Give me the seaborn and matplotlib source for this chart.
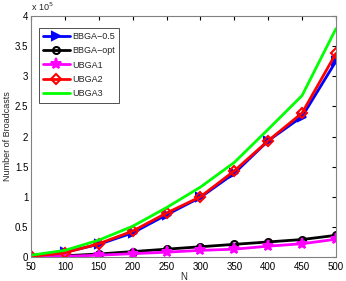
import matplotlib
matplotlib.use("Agg")
import matplotlib.pyplot as plt
import seaborn as sns
import pandas as pd

# ----------------------------------------
# Data (values in units of 1e5)
# ----------------------------------------
n_values = [50, 100, 150, 200, 250, 300, 350, 400, 450, 500]

bbga_05 = [0.01, 0.08, 0.21, 0.40, 0.70, 0.99, 1.39, 1.93, 2.33, 3.25]
bbga_opt = [0.005, 0.02, 0.05, 0.09, 0.13, 0.17, 0.21, 0.25, 0.29, 0.36]
ubga1 = [0.003, 0.01, 0.03, 0.055, 0.08, 0.11, 0.13, 0.18, 0.22, 0.295]
ubga2 = [0.01, 0.07, 0.22, 0.43, 0.73, 1.00, 1.43, 1.93, 2.39, 3.38]
ubga3 = [0.03, 0.11, 0.28, 0.51, 0.82, 1.16, 1.57, 2.12, 2.68, 3.79]

x_ticks = [50, 100, 150, 200, 250, 300, 350, 400, 450, 500]
y_ticks = [0, 0.5, 1, 1.5, 2, 2.5, 3, 3.5, 4]
y_tick_labels = ["0", "0.5", "1", "1.5", "2", "2.5", "3", "3.5", "4"]

df = pd.DataFrame({
    "N": n_values * 5,
    "value": bbga_05 + bbga_opt + ubga1 + ubga2 + ubga3,
    "series": (["BBGA\u22120.5"] * 10 + ["BBGA\u2212opt"] * 10 + ["UBGA1"] * 10
               + ["UBGA2"] * 10 + ["UBGA3"] * 10),
})

sns.set_style("white")
plt.rcParams["font.family"] = ["Liberation Sans", "DejaVu Sans"]

fig = plt.figure(figsize=(3.46, 2.81), dpi=100)
ax = fig.add_axes([0.0896, 0.0854, 0.8814, 0.8576])

styles = {
    "BBGA\u22120.5": dict(color="#0000ff", marker=">", mfc="#0000ff", ms=6),
    "BBGA\u2212opt": dict(color="#000000", marker="o", mfc="none", ms=5),
    "UBGA1": dict(color="#ff00ff", marker="*", mfc="#ff00ff", ms=8),
    "UBGA2": dict(color="#ff0000", marker="D", mfc="none", ms=5),
    "UBGA3": dict(color="#00ff00", marker=None, mfc="none", ms=0),
}

for name, st in styles.items():
    sub = df[df["series"] == name]
    sns.lineplot(
        data=sub, x="N", y="value", ax=ax, color=st["color"],
        marker=st["marker"], markersize=st["ms"], markerfacecolor=st["mfc"],
        markeredgecolor=st["color"], markeredgewidth=1.5, linewidth=2,
        label=name,
    )

ax.set_xlim(50, 500)
ax.set_ylim(0, 4)
ax.set_xticks(x_ticks)
ax.set_yticks(y_ticks)
ax.set_yticklabels(y_tick_labels)
ax.tick_params(direction="in", length=3, labelsize=7, colors="#000000",
               top=True, right=True, pad=2)
ax.tick_params(axis="x", pad=3.5)
for s in ax.spines.values():
    s.set_color("#808080")
    s.set_linewidth(0.8)

ax.set_xlabel("N", fontsize=7, labelpad=0)
ax.set_ylabel("Number of Broadcasts", fontsize=6.5, labelpad=2)

ax.text(0.0, 1.012, "x 10$^5$", transform=ax.transAxes, fontsize=6.5,
        ha="left", va="bottom")

leg = ax.legend(loc="upper left", fontsize=6.5, frameon=True, fancybox=False,
                borderpad=0.45, handlelength=3, handletextpad=0.3,
                labelspacing=0.6, bbox_to_anchor=(0.01, 0.97))
leg.get_frame().set_edgecolor("#000000")
leg.get_frame().set_linewidth(0.6)

fig.savefig("out.png", dpi=100)
